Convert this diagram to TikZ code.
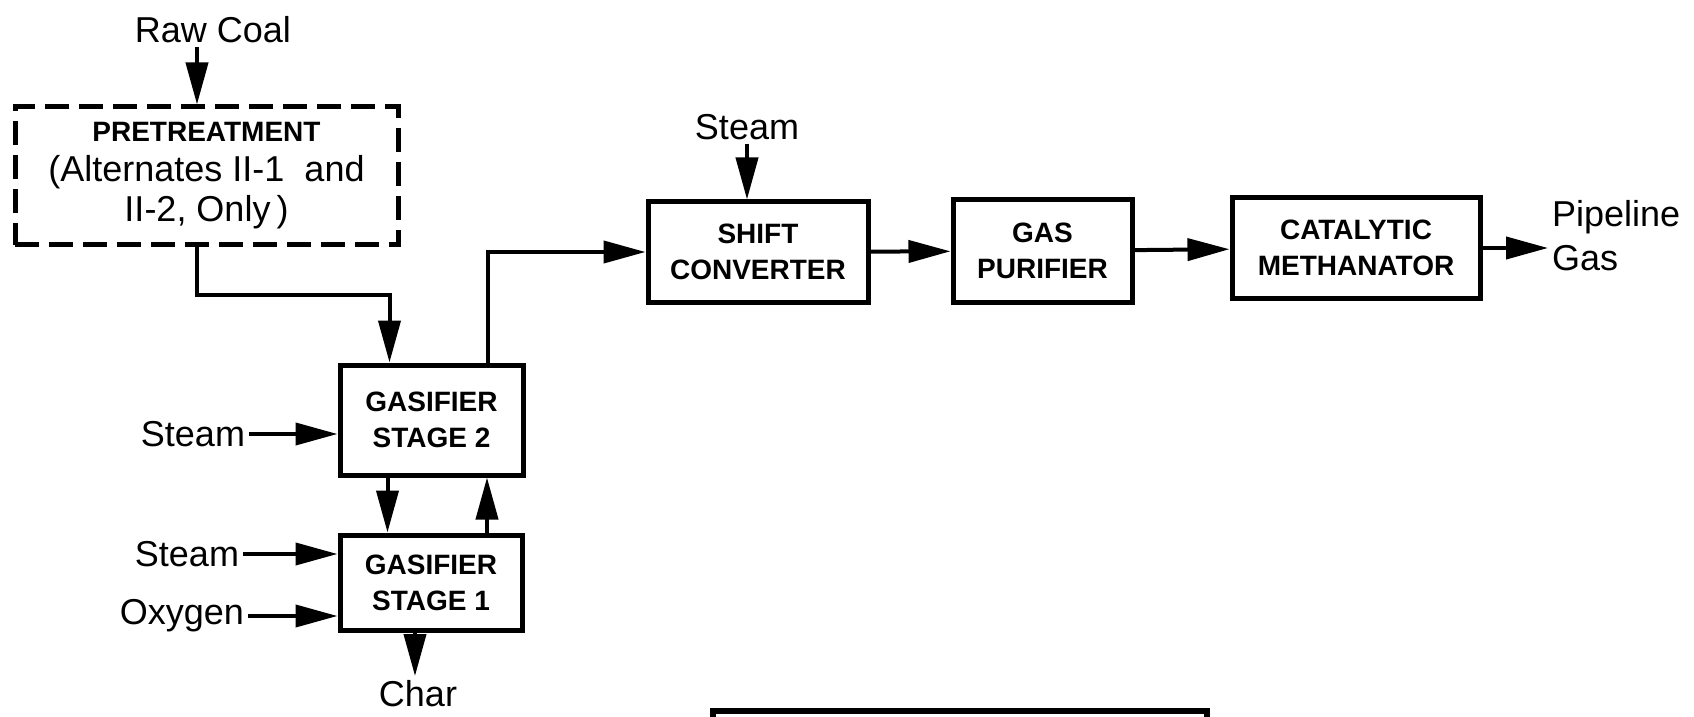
\documentclass[tikz,border=0pt]{standalone}
\usepackage{fontspec}
\setmainfont{Liberation Sans}
\usetikzlibrary{arrows.meta}

\begin{document}
\begin{tikzpicture}[x=0.5pt, y=-0.5pt,
  box/.style={draw, line width=2.5pt, align=center, inner sep=0pt,
    font=\bfseries\fontsize{14}{18}\selectfont},
  lbl/.style={inner sep=1pt, font=\fontsize{18}{22}\selectfont},
  >={Triangle[length=21pt,width=11pt]},
  every path/.style={line width=2pt}]
\useasboundingbox (0,0) rectangle (1694,717);

\node[lbl] (RC) at (213,30) {Raw Coal};
\node[box, dashed, dash pattern=on 12pt off 5pt, minimum width=191.5pt, minimum height=69pt,
  font=\fontsize{18}{20}\selectfont] (A) at (206.5,176)
  {{\bfseries\fontsize{14}{16}\selectfont PRETREATMENT}\\(Alternates II-1\ \ and\\II-2, Only\,)};
\node[box, minimum width=91.5pt, minimum height=55pt] (B) at (431.5,420) {GASIFIER\\STAGE 2};
\node[box, minimum width=91pt, minimum height=47.5pt] (C) at (431,582.5) {GASIFIER\\STAGE 1};
\node[box, minimum width=110pt, minimum height=50pt] (D) at (758,252) {SHIFT\\CONVERTER};
\node[box, minimum width=89.5pt, minimum height=51pt] (E) at (1042.5,251) {GAS\\PURIFIER};
\node[box, minimum width=124pt, minimum height=50pt] (F) at (1356,248) {CATALYTIC\\METHANATOR};

\node[lbl] (S1) at (747,127) {Steam};
\node[lbl, anchor=east] (S2) at (249,434) {Steam};
\node[lbl, anchor=east] (S3) at (243,554) {Steam};
\node[lbl, anchor=east] (O) at (248,616) {Oxygen};
\node[lbl, anchor=north] (Ch) at (418,676) {Char};
\node[lbl, anchor=west, align=left] (P) at (1548,236) {Pipeline\\Gas};

\draw[->] ([xshift=-8pt]RC.south) -- ([xshift=-8pt]RC.south |- A.north);
\draw[->] ([xshift=-5pt]A.south) -- ++(0,47) -| ([xshift=-21pt]B.north);
\draw[->] ([xshift=-22pt]B.south) -- ([xshift=-22pt]B.south |- C.north);
\draw[->] ([xshift=28pt]C.north) -- ([xshift=28pt]C.north |- B.south);
\draw[->] ([xshift=28pt]B.north) |- (D.west);
\draw[->] ([xshift=-8pt]C.south) -- ([xshift=-8pt]C.south |- Ch.north);
\draw[->] (S1.south) -- (S1.south |- D.north);
\draw[->] (S2.east) -- (S2.east -| B.west);
\draw[->] (S3.east) -- (S3.east -| C.west);
\draw[->] (O.east) -- (O.east -| C.west);
\draw[->] (D) -- (E);
\draw[->] (E) -- (F);
\draw[->] (F.east) -- (F.east -| P.west);

% top edge of the next box, cut off by the page
\draw[line width=3pt] (713,717) -- (713,711) -- (1207,711) -- (1207,717);
\end{tikzpicture}
\end{document}
